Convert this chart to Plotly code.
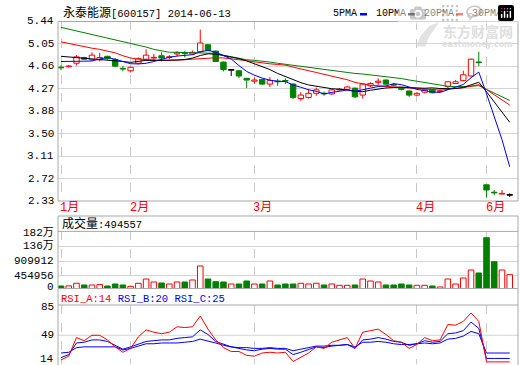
import numpy as np
import pandas as pd
import plotly.graph_objects as go

# ---------------- data ----------------
months = ["1月", "2月", "3月", "4月", "6月"]
month_pos = [0, 9, 25, 46, 55]

opens = [4.64, 4.65, 4.71, 4.81, 4.77, 4.77, 4.83, 4.77, 4.62, 4.58,
         4.71, 4.78, 4.80, 4.84, 4.81, 4.87, 4.89, 4.87, 4.91, 5.03,
         4.92, 4.73, 4.59, 4.58, 4.45, 4.40, 4.43, 4.35, 4.40, 4.41,
         4.35, 4.10, 4.12, 4.19, 4.19, 4.18, 4.25, 4.26, 4.28, 4.16,
         4.32, 4.38, 4.42, 4.34, 4.28, 4.23, 4.16, 4.21, 4.26, 4.22,
         4.31, 4.36, 4.41, 4.49, 4.73, 2.61, 2.48, 2.45, 2.43]
highs = [4.675, 4.68, 4.85, 4.82, 4.90, 4.89, 4.84, 4.80, 4.66, 4.65,
         4.81, 4.95, 4.87, 4.90, 4.85, 4.92, 4.92, 4.93, 5.29, 5.04,
         4.93, 4.74, 4.59, 4.59, 4.45, 4.46, 4.44, 4.47, 4.44, 4.45,
         4.36, 4.21, 4.26, 4.29, 4.22, 4.27, 4.28, 4.32, 4.29, 4.36,
         4.38, 4.45, 4.43, 4.37, 4.30, 4.24, 4.21, 4.27, 4.27, 4.26,
         4.40, 4.42, 4.58, 4.79, 4.91, 2.61, 2.52, 2.52, 2.46]
lows = [4.59, 4.64, 4.67, 4.77, 4.75, 4.74, 4.77, 4.64, 4.57, 4.55,
        4.69, 4.77, 4.74, 4.74, 4.78, 4.83, 4.81, 4.85, 4.88, 4.92,
        4.73, 4.57, 4.49, 4.455, 4.28, 4.36, 4.33, 4.30, 4.32, 4.35,
        4.09, 4.06, 4.10, 4.15, 4.15, 4.16, 4.24, 4.24, 4.11, 4.10,
        4.30, 4.33, 4.34, 4.31, 4.24, 4.13, 4.14, 4.19, 4.19, 4.21,
        4.25, 4.35, 4.40, 4.48, 4.66, 2.39, 2.43, 2.45, 2.40]
closes = [4.63, 4.66, 4.82, 4.78, 4.85, 4.81, 4.79, 4.66, 4.61, 4.64,
          4.79, 4.85, 4.81, 4.80, 4.82, 4.89, 4.88, 4.90, 5.06, 4.93,
          4.74, 4.60, 4.59, 4.49, 4.42, 4.42, 4.35, 4.41, 4.39, 4.40,
          4.12, 4.16, 4.19, 4.25, 4.18, 4.25, 4.26, 4.30, 4.13, 4.35,
          4.36, 4.40, 4.35, 4.33, 4.26, 4.16, 4.19, 4.25, 4.20, 4.23,
          4.39, 4.39, 4.51, 4.78, 4.72, 2.52, 2.47, 2.46, 2.43]
volumes = [147000, 150000, 230000, 178000, 178000, 190000, 147000, 208000, 178000, 135000,
           230000, 361000, 270000, 239000, 208000, 270000, 270000, 331000, 760000, 361000,
           280000, 270000, 208000, 208000, 300000, 208000, 208000, 300000, 178000, 208000,
           208000, 230000, 208000, 230000, 178000, 208000, 168000, 168000, 178000, 361000,
           300000, 270000, 178000, 178000, 208000, 178000, 168000, 168000, 147000, 117000,
           361000, 208000, 392000, 637000, 545000, 1627000, 892000, 637000, 494557]

# moving-average values before enough closes exist in the window
ma5_head = [4.74, 4.74, 4.74, 4.74]
ma10_head = [4.83, 4.82, 4.81, 4.80, 4.79, 4.78, 4.77, 4.76, 4.74]
ma20_head = [5.08, 5.05, 5.02, 5.00, 4.97, 4.95, 4.92, 4.89, 4.84, 4.80,
             4.78, 4.77, 4.77, 4.76, 4.76, 4.76, 4.77, 4.78, 4.79]
ma30_head = [5.33, 5.30, 5.27, 5.24, 5.21, 5.18, 5.15, 5.12, 5.09, 5.06,
             5.03, 4.99, 4.95, 4.92, 4.90, 4.90, 4.89, 4.89, 4.89, 4.89,
             4.88, 4.85, 4.82, 4.79, 4.77, 4.76, 4.75, 4.73, 4.71]

rsi_a = [17, 22, 46, 42, 49, 49, 43, 34, 27, 32, 47, 56, 53, 51, 53, 60, 59, 60, 74, 57,
         43, 33, 28, 28, 23, 22, 26, 27, 26, 27, 15, 21, 26, 34, 32, 40, 43, 46, 32, 53,
         55, 57, 50, 42, 40, 32, 37, 46, 42, 43, 63, 62, 67, 78, 67, 14.5, 14.5, 14.5, 14.5]
rsi_b = [20, 24, 39, 40, 43, 43, 41, 36, 31, 34, 38, 41, 42, 43, 43, 45, 46, 47, 56, 50,
         41, 37, 34, 32, 30, 29, 31, 32, 31, 31, 24, 27, 31, 34, 33, 35, 36, 37, 32, 43,
         44, 46, 44, 41, 40, 36, 38, 42, 40, 41, 51, 52, 55, 66, 58, 19, 19, 19, 19]
rsi_c = [26, 27, 33, 34, 34, 34, 34, 34, 30, 32, 35, 38, 38, 39, 39, 39, 40, 41, 44, 42,
         39, 36, 34, 33, 33, 32, 32, 33, 32, 32, 29, 31, 33, 35, 35, 36, 36, 37, 34, 40,
         40, 41, 40, 38, 37, 37, 38, 39, 38, 39, 44, 45, 48, 54, 51, 26, 26, 26, 26]

price_ticks = [5.44, 5.05125, 4.6625, 4.27375, 3.885, 3.49625, 3.1075, 2.71875, 2.33]
price_labels = ["5.44", "5.05", "4.66", "4.27", "3.88", "3.50", "3.11", "2.72", "2.33"]
vol_ticks = [454956, 909912, 1364868, 1819824]
vol_labels = ["454956", "909912", "136万", "182万"]
rsi_ticks = [85, 49]
rsi_labels = ["85", "49"]
ma_names = ["5PMA", "10PMA", "20PMA", "30PMA"]

# ---------------- derived ----------------
n = len(closes)
x = np.arange(n)
o, h, l, c = (np.array(v, dtype=float) for v in (opens, highs, lows, closes))
cs = pd.Series(c)


def moving_avg(win, head):
    s = cs.rolling(win).mean().to_numpy()
    s[:win - 1] = head
    return s


ma5 = moving_avg(5, ma5_head)
ma10 = moving_avg(10, ma10_head)
ma20 = moving_avg(20, ma20_head)
ma30 = moving_avg(30, ma30_head)

RED, GREEN, BLUE, BLACK = "#ff0000", "#008000", "#0000ff", "#000000"
FONT = "Liberation Mono, Noto Sans CJK SC, monospace"

up = c > o
down = c < o
flat = c == o
body_lo = np.minimum(o, c)
body_hi = np.maximum(o, c)
body_h = np.maximum(body_hi - body_lo, 0.012)

fig = go.Figure()

groups = [(up, RED, "white"), (down, GREEN, GREEN), (flat, BLACK, BLACK)]
for mask, col, fill in groups:
    idx = np.where(mask)[0]
    wx, wy = [], []
    for i in idx:
        wx += [i, i, None, i, i, None]
        wy += [body_hi[i], h[i], None, l[i], body_lo[i], None]
    fig.add_trace(go.Scatter(x=wx, y=wy, mode="lines", line=dict(color=col, width=1),
                             xaxis="x", yaxis="y", hoverinfo="skip"))
    fig.add_trace(go.Bar(x=x[idx], y=body_h[idx], base=body_lo[idx], width=0.7,
                         marker=dict(color=fill, line=dict(color=col, width=1)),
                         xaxis="x", yaxis="y", hoverinfo="skip"))

ma_colors = [BLUE, BLACK, RED, GREEN]
for s, col in [(ma30, GREEN), (ma20, RED), (ma10, BLACK), (ma5, BLUE)]:
    fig.add_trace(go.Scatter(x=x, y=s, mode="lines", line=dict(color=col, width=1),
                             xaxis="x", yaxis="y", hoverinfo="skip"))

# volume
vol = np.array(volumes, dtype=float)
vol_up = ~down
fig.add_trace(go.Bar(x=x[vol_up], y=vol[vol_up], width=0.72,
                     marker=dict(color="white", line=dict(color=RED, width=1)),
                     xaxis="x2", yaxis="y2", hoverinfo="skip"))
fig.add_trace(go.Bar(x=x[down], y=vol[down], width=0.72,
                     marker=dict(color=GREEN, line=dict(color=GREEN, width=1)),
                     xaxis="x2", yaxis="y2", hoverinfo="skip"))

# RSI
for s, col in [(rsi_c, BLUE), (rsi_b, BLUE), (rsi_a, RED)]:
    fig.add_trace(go.Scatter(x=x, y=s, mode="lines", line=dict(color=col, width=1),
                             xaxis="x3", yaxis="y3", hoverinfo="skip"))

# ---------------- layout ----------------
W, H = 520, 365
ML, MR, MT, MB = 58, 2, 21, 1
PH = H - MT - MB
PW = W - ML - MR


def py(ypx):
    return (H - MB - ypx) / PH


def px(xpx):
    return (xpx - ML) / PW


xr = [-0.388, 59.07]
xcommon = dict(range=xr, tickvals=month_pos, showticklabels=False, showgrid=True,
               griddash="dash", gridcolor="#c8c8c8", gridwidth=1, zeroline=False,
               showline=False, ticks="", fixedrange=True, automargin=False)
tickfont = dict(family=FONT, size=11, color="black")
ycommon = dict(zeroline=False, showline=False, ticks="", showticklabels=False,
               fixedrange=True, automargin=False, gridcolor="#d4d4d4", gridwidth=1)

fig.update_layout(
    template="none",
    width=W, height=H, autosize=False,
    margin=dict(l=ML, r=MR, t=MT, b=MB, pad=0, autoexpand=False),
    paper_bgcolor="white", plot_bgcolor="white",
    showlegend=False, barmode="overlay", hovermode=False,
    font=dict(family=FONT, size=11, color="black"),
    xaxis=dict(domain=[0, 1], anchor="y", **xcommon),
    xaxis2=dict(domain=[0, 1], anchor="y2", matches="x", **xcommon),
    xaxis3=dict(domain=[0, 1], anchor="y3", matches="x", **xcommon),
    yaxis=dict(domain=[py(201), py(21)], range=[2.33, 5.44], tickvals=price_ticks,
               showgrid=True, anchor="x", **ycommon),
    yaxis2=dict(domain=[py(288.5), py(231.4)], range=[70465, 1819824], tickvals=vol_ticks,
                showgrid=True, anchor="x2", **ycommon),
    yaxis3=dict(domain=[0, py(305)], range=[11.8, 88.2], tickvals=rsi_ticks,
                showgrid=False, anchor="x3", **ycommon),
)

frame = dict(color="#a8a8a8", width=1)
shapes = [
    dict(type="rect", xref="paper", yref="paper", x0=0, x1=1, y0=py(201), y1=py(21.5), line=frame),
    dict(type="rect", xref="paper", yref="paper", x0=0, x1=1, y0=py(288.5), y1=py(216), line=frame),
    dict(type="line", xref="paper", yref="paper", x0=0, x1=1, y0=py(231.4), y1=py(231.4), line=frame),
    dict(type="rect", xref="paper", yref="paper", x0=0, x1=1, y0=py(366), y1=py(288.5), line=frame),
    dict(type="line", xref="paper", yref="paper", x0=0, x1=1, y0=py(305), y1=py(305), line=frame),
    dict(type="line", xref="paper", yref="y3", x0=0, x1=1, y0=49, y1=49,
         line=dict(color="#d4d4d4", width=1), layer="below"),
]

# watermark swoosh (decoration)
sw = [(417, 46), (421, 36), (429, 27), (440, 21), (434, 29), (429, 36), (425, 46)]
path = "M " + " L ".join("%.4f,%.4f" % (px(a), py(b)) for a, b in sw) + " Z"
shapes.append(dict(type="path", xref="paper", yref="paper", path=path,
                   fillcolor="#e2e2e2", line=dict(color="#e2e2e2", width=1), layer="below"))

# legend
leg_text_x = [331, 374, 422, 470]
leg_mark_x = [360, 408, 456, 504]
ann = []
for name, tx, mx, col in zip(ma_names, leg_text_x, leg_mark_x, ma_colors):
    ann.append(dict(xref="paper", yref="paper", x=px(tx), y=py(13.5), xanchor="left",
                    yanchor="middle", text=name, showarrow=False,
                    font=dict(family=FONT, size=10, color="black")))
    shapes.append(dict(type="rect", xref="paper", yref="paper", x0=px(mx), x1=px(mx + 7),
                       y0=py(15.5), y1=py(13), fillcolor=col, line=dict(width=0)))
fig.update_layout(shapes=shapes)

# axis labels, placed through each axis' own scale
for v, t in zip(price_ticks, price_labels):
    ann.append(dict(xref="paper", yref="y", x=px(55.5), y=v, xanchor="right", yanchor="middle",
                    text=t, showarrow=False, font=tickfont))
for v, t in zip(vol_ticks, vol_labels):
    ann.append(dict(xref="paper", yref="y2", x=px(55.5), y=v, xanchor="right", yanchor="middle",
                    text=t, showarrow=False, font=tickfont, yshift=(-2 if v == vol_ticks[-1] else 0)))
for v, t in zip(rsi_ticks, rsi_labels):
    ann.append(dict(xref="paper", yref="y3", x=px(55.5), y=v, xanchor="right", yanchor="middle",
                    text=t, showarrow=False, font=tickfont))
ann.append(dict(xref="paper", yref="paper", x=px(55.5), y=py(286.5), xanchor="right", yanchor="middle",
                text="0", showarrow=False, font=tickfont))
ann.append(dict(xref="paper", yref="paper", x=px(55.5), y=py(358.5), xanchor="right", yanchor="middle",
                text="14", showarrow=False, font=tickfont))

ann.append(dict(xref="paper", yref="paper", x=px(61), y=py(13), xanchor="left", yanchor="middle",
                text="<span style='font-size:12px'>永泰能源</span>[600157] 2014-06-13", showarrow=False,
                font=dict(family=FONT, size=10.5, color="black")))
for m, p in zip(months, month_pos):
    ann.append(dict(xref="x", yref="paper", x=p, xshift=-3, y=py(208), xanchor="left",
                    yanchor="middle", text=m, showarrow=False,
                    font=dict(family=FONT, size=12, color=RED)))
ann.append(dict(xref="paper", yref="paper", x=px(60), y=py(224), xanchor="left", yanchor="middle",
                text="<span style='font-size:12px'>成交量</span>:%d" % volumes[-1], showarrow=False,
                font=dict(family=FONT, size=10.5, color="black")))
rsi_txt = ("<span style='color:#ff0000'>RSI_A:14</span> <span style='color:#0000ff'>RSI_B:20</span> "
           "<span style='color:#0000ff'>RSI_C:25</span>")
ann.append(dict(xref="paper", yref="paper", x=px(59), y=py(298.5), xanchor="left", yanchor="middle",
                text=rsi_txt, showarrow=False, font=dict(family=FONT, size=10.5)))
ann.append(dict(xref="paper", yref="paper", x=px(478), y=py(30.5), xanchor="center", yanchor="middle",
                text="<b>东方财富网</b>", showarrow=False,
                font=dict(family="Noto Sans CJK SC", size=14, color="#dedede")))
ann.append(dict(xref="paper", yref="paper", x=px(477), y=py(44.5), xanchor="center", yanchor="middle",
                text="<b>eastmoney.com</b>", showarrow=False,
                font=dict(family="DejaVu Sans", size=8, color="#dedede")))
fig.update_layout(annotations=ann)

fig.write_html("out.html",
               post_script="document.body.style.margin='0px';document.body.style.overflow='hidden';")
